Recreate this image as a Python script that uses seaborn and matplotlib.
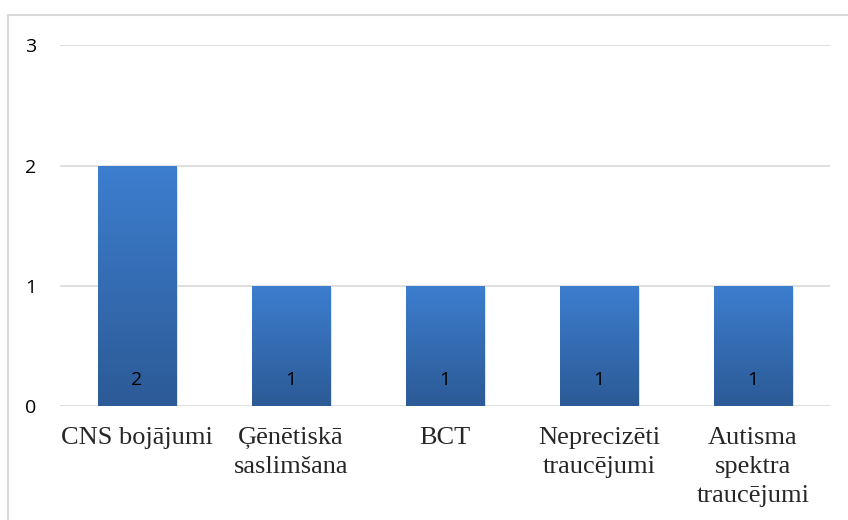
import numpy as np
import matplotlib
matplotlib.use('Agg')
import matplotlib.pyplot as plt
import matplotlib.patheffects as pe
from matplotlib.colors import LinearSegmentedColormap
from matplotlib.patches import Rectangle
import seaborn as sns

categories = ['CNS bojājumi', 'Ģēnētiskā\nsaslimšana', 'BCT',
              'Neprecizēti\ntraucējumi', 'Autisma\nspektra\ntraucējumi']
values = [2, 1, 1, 1, 1]
y_ticks = [0, 1, 2, 3]

sns.set_theme(style='white')
plt.rcParams['font.family'] = ['Open Sans', 'DejaVu Sans']

fig = plt.figure(figsize=(8.48, 5.2), dpi=100)
ax = fig.add_axes([0.0708, 0.219, 0.908, 0.694])

sns.barplot(x=categories, y=values, color='#3471BC', width=0.51, ax=ax,
            saturation=1, zorder=3)

# gradient fill on each bar
cmap = LinearSegmentedColormap.from_list('bar', ['#2C5A96', '#3D7ECF'])
grad = np.linspace(0, 1, 256).reshape(-1, 1)
for p in ax.patches:
    x0, y0 = p.get_x(), p.get_y()
    w, h = p.get_width(), p.get_height()
    p.set_path_effects([pe.SimplePatchShadow(offset=(1.5, -1.5), alpha=0.25, shadow_rgbFace='#777777'),
                        pe.Normal()])
    im = ax.imshow(grad, cmap=cmap, origin='lower', aspect='auto',
                   extent=[x0, x0 + w, y0, y0 + h], zorder=4)
    im.set_clip_path(p)

ax.set_xlim(-0.5, len(categories) - 0.5)
ax.set_ylim(0, 3)
ax.set_yticks(y_ticks)
ax.set_yticklabels([str(t) for t in y_ticks], fontsize=14, color='black')
ax.grid(axis='y', color='#D9D9D9', linewidth=1.2, zorder=0)
ax.set_axisbelow(True)
for s in ax.spines.values():
    s.set_visible(False)
ax.tick_params(axis='y', length=0, pad=17)
ax.tick_params(axis='x', length=0, pad=15)
for lbl in ax.get_xticklabels():
    lbl.set_fontfamily(['Liberation Serif', 'DejaVu Serif'])
    lbl.set_fontsize(19)
    lbl.set_linespacing(1.4)

for i, v in enumerate(values):
    ax.annotate(str(v), (i, 0), xytext=(0, 12), textcoords='offset points',
                ha='center', va='bottom', fontsize=14, color='black', zorder=6)

# outer chart border
fig.patches.append(Rectangle((8 / 848, -0.1), 1.0, 1.1 - 15 / 520,
                             transform=fig.transFigure, fill=False,
                             edgecolor='#D9D9D9', linewidth=1.5))

fig.savefig('out.png', dpi=100)
